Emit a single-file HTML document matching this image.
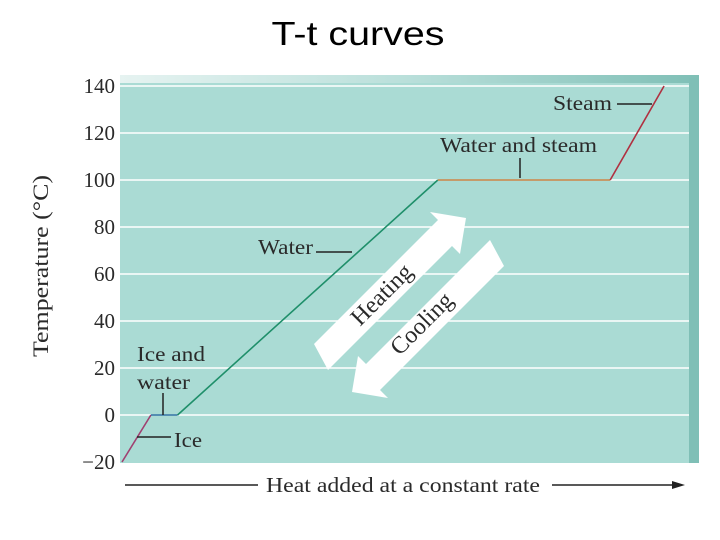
<!DOCTYPE html>
<html><head><meta charset="utf-8"><style>
body{margin:0;background:#fff;width:720px;height:540px;overflow:hidden}
svg{display:block}
.t{font-family:"Liberation Serif",serif;fill:#2a2a2a}
</style></head><body>
<svg width="720" height="540">
<defs>
<linearGradient id="tg" x1="0" y1="0" x2="1" y2="0">
<stop offset="0" stop-color="#e6f3f1"/><stop offset="0.5" stop-color="#b9dfda"/><stop offset="1" stop-color="#7fbfb6"/>
</linearGradient>
</defs>
<text x="358" y="45" text-anchor="middle" font-family="Liberation Sans,sans-serif" font-size="33" textLength="173" lengthAdjust="spacingAndGlyphs" fill="#000">T-t curves</text>
<rect x="120" y="75" width="579" height="388" fill="#aadbd4"/>
<rect x="120" y="75" width="579" height="8" fill="url(#tg)"/>
<rect x="689" y="78" width="10" height="385" fill="#7fbfb6"/>
<g id="grid"></g>
<g id="ticks"></g>
<g id="curve"></g>
<text class="t" font-size="22" textLength="182" lengthAdjust="spacingAndGlyphs" transform="translate(48,266) rotate(-90)" text-anchor="middle">Temperature (°C)</text>
<!-- arrows -->
<polygon points="314,344 438,220 430,212 466,218 460,254 452,246 328,370" fill="#fff"/>
<text class="t" font-size="24" transform="translate(387,300) rotate(-45)" text-anchor="middle">Heating</text>
<polygon points="504,266 380,390 388,398 352,392 358,356 366,364 490,240" fill="#fff"/>
<text class="t" font-size="24" transform="translate(427,329) rotate(-45)" text-anchor="middle">Cooling</text>
<!-- annotations -->
<text class="t" font-size="21" x="553" y="110" textLength="59" lengthAdjust="spacingAndGlyphs">Steam</text>
<line x1="617" y1="104" x2="652" y2="104" stroke="#222" stroke-width="1.5"/>
<text class="t" font-size="21" x="440" y="152" textLength="157" lengthAdjust="spacingAndGlyphs">Water and steam</text>
<line x1="520" y1="158" x2="520" y2="178" stroke="#222" stroke-width="1.5"/>
<text class="t" font-size="21" x="258" y="254" textLength="55" lengthAdjust="spacingAndGlyphs">Water</text>
<line x1="316" y1="252" x2="352" y2="252" stroke="#222" stroke-width="1.5"/>
<text class="t" font-size="21" x="137" y="361" textLength="68" lengthAdjust="spacingAndGlyphs">Ice and</text>
<text class="t" font-size="21" x="137" y="389" textLength="53" lengthAdjust="spacingAndGlyphs">water</text>
<line x1="163" y1="393" x2="163" y2="415" stroke="#222" stroke-width="1.5"/>
<text class="t" font-size="21" x="174" y="447" textLength="28" lengthAdjust="spacingAndGlyphs">Ice</text>
<line x1="137" y1="437" x2="171" y2="437" stroke="#222" stroke-width="1.5"/>
<line x1="125" y1="485" x2="258" y2="485" stroke="#222" stroke-width="1.5"/>
<text class="t" font-size="21" x="266" y="492" textLength="274" lengthAdjust="spacingAndGlyphs">Heat added at a constant rate</text>
<line x1="552" y1="485" x2="676" y2="485" stroke="#222" stroke-width="1.5"/>
<polygon points="685,485 672,481 672,489" fill="#222"/>
</svg>
<script>
const yTicks=[140,120,100,80,60,40,20,0,-20];
const heatX=[0,0.051,0.098,0.557,0.861,0.956];
const temps=[-20,0,0,100,100,140];
const segColors=["#a04070","#2a6fa0","#1f8f6a","#c08040","#b03040"];
const segNames=["ice-segment","melting-segment","water-segment","boiling-segment","steam-segment"];
const NS="http://www.w3.org/2000/svg";
function yS(t){return 415-t*2.35;}
function xS(h){return 122+h*567;}
const grid=document.getElementById('grid'),ticks=document.getElementById('ticks'),curve=document.getElementById('curve');
yTicks.forEach(t=>{
 if(t>-20){const l=document.createElementNS(NS,'line');
 l.setAttribute('x1',120);l.setAttribute('x2',689);l.setAttribute('y1',yS(t));l.setAttribute('y2',yS(t));
 l.setAttribute('stroke','#fff');l.setAttribute('stroke-width','1.5');
 
 
 grid.appendChild(l);}
 const tx=document.createElementNS(NS,'text');
 tx.setAttribute('x',115);tx.setAttribute('y',yS(t)+7);tx.setAttribute('text-anchor','end');
 tx.setAttribute('class','t');tx.setAttribute('font-size','21');tx.setAttribute('fill','#444');
 tx.textContent=t<0?'\u2212'+(-t):t;
 
 
 ticks.appendChild(tx);
});
for(let i=0;i<heatX.length-1;i++){
 const l=document.createElementNS(NS,'line');
 l.setAttribute('x1',xS(heatX[i]));l.setAttribute('y1',yS(temps[i]));
 l.setAttribute('x2',xS(heatX[i+1]));l.setAttribute('y2',yS(temps[i+1]));
 l.setAttribute('stroke',segColors[i]);l.setAttribute('stroke-width','1.6');
 
 
 curve.appendChild(l);
}
</script>
</body></html>
